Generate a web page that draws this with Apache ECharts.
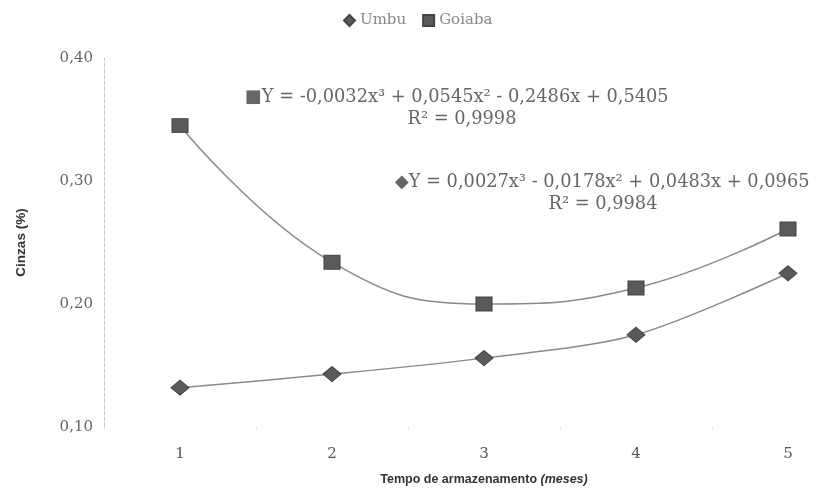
<!DOCTYPE html>
<html>
<head>
<meta charset="utf-8">
<script src="https://cdn.jsdelivr.net/npm/echarts@6/dist/echarts.min.js"></script>
<style>html,body{margin:0;padding:0;background:#fff;}#c{width:826px;height:495px;}</style>
</head>
<body>
<div id="c"></div>
<script>
var categories = ['1', '2', '3', '4', '5'];
var umbu = [0.132, 0.143, 0.156, 0.175, 0.225];
var goiaba = [0.345, 0.234, 0.200, 0.213, 0.261];
var yTicks = [0.10, 0.20, 0.30, 0.40];
var eqGoiaba = '\u25A0Y = -0,0032x\u00B3 + 0,0545x\u00B2 - 0,2486x + 0,5405';
var r2Goiaba = 'R\u00B2 = 0,9998';
var eqUmbu = '\u25C6Y = 0,0027x\u00B3 - 0,0178x\u00B2 + 0,0483x + 0,0965';
var r2Umbu = 'R\u00B2 = 0,9984';

var chart = echarts.init(document.getElementById('c'));
var serif = '"DejaVu Serif", serif';
var sans = '"Liberation Sans", sans-serif';
function eqText(text, x, y, align) {
  return {type: 'text', x: x, y: y, style: {text: text, fill: '#666', font: '17.8px ' + serif,
    textAlign: align, textVerticalAlign: 'middle'}};
}
chart.setOption({
  animation: false,
  legend: {
    top: 8, left: 338,
    itemWidth: 11, itemHeight: 11, itemGap: 16,
    textStyle: {color: '#888', fontFamily: serif, fontSize: 15},
    data: [{name: 'Umbu', icon: 'diamond'}, {name: 'Goiaba', icon: 'rect'}]
  },
  grid: {left: 104, width: 760, top: 58, bottom: 68, outerBoundsMode: 'none', containLabel: false},
  xAxis: {
    type: 'category', data: categories, boundaryGap: true,
    axisLine: {show: false},
    axisTick: {show: true, lineStyle: {color: '#e8e8e8'}, length: 4},
    axisLabel: {color: '#555', fontFamily: serif, fontSize: 15, margin: 20},
    name: 'Tempo de armazenamento {i|(meses)}', nameLocation: 'middle', nameGap: 46,
    nameTextStyle: {color: '#333', fontFamily: sans, fontWeight: 'bold', fontSize: 12.5,
      rich: {i: {fontStyle: 'italic', fontWeight: 'bold', fontSize: 12.5, color: '#333', fontFamily: sans}}}
  },
  yAxis: {
    type: 'value', min: yTicks[0], max: yTicks[yTicks.length - 1], interval: 0.1,
    axisLine: {show: true, lineStyle: {color: '#c8c8c8', type: 'dashed', width: 1}},
    axisTick: {show: false},
    splitLine: {show: false},
    axisLabel: {color: '#666', fontFamily: serif, fontSize: 15, margin: 11,
      formatter: function (v) { return v.toFixed(2).replace('.', ','); }},
    name: 'Cinzas (%)', nameLocation: 'middle', nameGap: 76,
    nameTextStyle: {color: '#333', fontFamily: sans, fontWeight: 'bold', fontSize: 13.5}
  },
  series: [
    {name: 'Umbu', type: 'line', data: umbu, smooth: 0.3,
      symbol: 'diamond', symbolSize: [18, 15],
      itemStyle: {color: '#5a5a5a', borderColor: '#444', borderWidth: 1},
      lineStyle: {color: '#8a8a8a', width: 1.5}},
    {name: 'Goiaba', type: 'line', data: goiaba, smooth: 0.45,
      symbol: 'rect', symbolSize: [16, 14],
      itemStyle: {color: '#5a5a5a', borderColor: '#444', borderWidth: 1},
      lineStyle: {color: '#8a8a8a', width: 1.5}}
  ],
  graphic: [
    eqText(eqGoiaba, 245, 97, 'left'),
    eqText(r2Goiaba, 462, 119, 'center'),
    eqText(eqUmbu, 395, 182, 'left'),
    eqText(r2Umbu, 603, 204, 'center')
  ]
});
</script>
</body>
</html>
